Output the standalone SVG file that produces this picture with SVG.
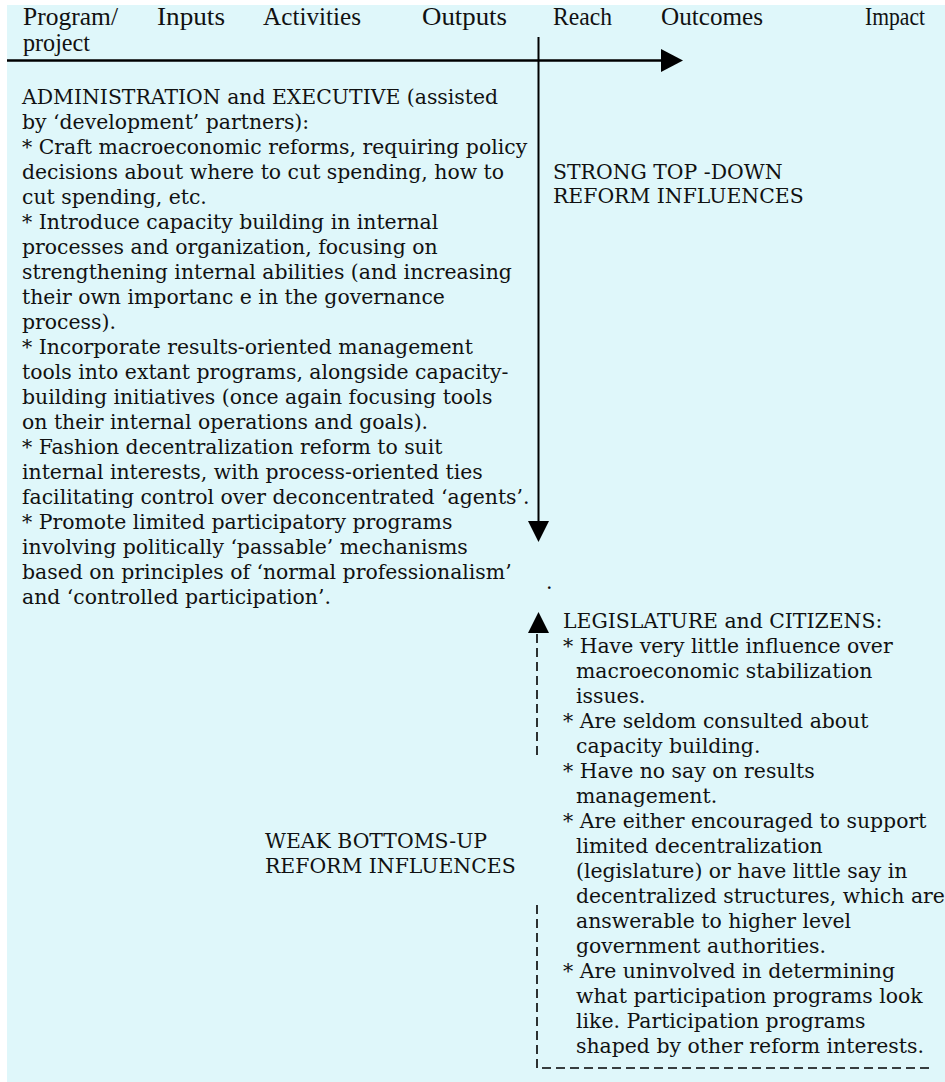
<svg xmlns="http://www.w3.org/2000/svg" width="945" height="1082" viewBox="0 0 945 1082">
<style>
.hd{font-family:"Liberation Serif",serif;font-size:25px;fill:#111}
.tx{font-family:"DejaVu Serif","Liberation Serif",serif;font-size:20.4px;fill:#111}
.ln{stroke:#000;fill:none}
.dash{stroke:#000;stroke-width:1.6;fill:none;stroke-dasharray:9 5}
</style>
<rect x="7" y="5" width="938" height="1077" fill="#dff7fa"/>
<g id="header">
<text class="hd" x="23" y="25" textLength="95" lengthAdjust="spacingAndGlyphs">Program/</text>
<text class="hd" x="23" y="51" textLength="67" lengthAdjust="spacingAndGlyphs">project</text>
<text class="hd" x="157" y="25" textLength="68" lengthAdjust="spacingAndGlyphs">Inputs</text>
<text class="hd" x="263" y="25" textLength="98" lengthAdjust="spacingAndGlyphs">Activities</text>
<text class="hd" x="422" y="25" textLength="85" lengthAdjust="spacingAndGlyphs">Outputs</text>
<text class="hd" x="553" y="25" textLength="59" lengthAdjust="spacingAndGlyphs">Reach</text>
<text class="hd" x="661" y="25" textLength="102" lengthAdjust="spacingAndGlyphs">Outcomes</text>
<text class="hd" x="865" y="25" textLength="60" lengthAdjust="spacingAndGlyphs">Impact</text>
</g>
<g id="connectors">
<line class="ln" x1="7" y1="60.5" x2="662" y2="60.5" stroke-width="2.5"/>
<polygon points="661,49 683,60.5 661,72" fill="#000"/>
<line class="ln" x1="538.5" y1="37" x2="538.5" y2="522" stroke-width="2"/>
<polygon points="528,521 549,521 538.5,542" fill="#000"/>
<polygon points="538.5,612 549,633 528,633" fill="#000"/>
<path class="dash" d="M537,634 V755"/>
<path class="dash" d="M537,905 V1068 H933"/>
</g>
<g id="executive">
<text class="tx" x="22" y="104">ADMINISTRATION and EXECUTIVE (assisted</text>
<text class="tx" x="22" y="129">by ‘development’ partners):</text>
<text class="tx" x="22" y="154">* Craft macroeconomic reforms, requiring policy</text>
<text class="tx" x="22" y="179">decisions about where to cut spending, how to</text>
<text class="tx" x="22" y="204">cut spending, etc.</text>
<text class="tx" x="22" y="229">* Introduce capacity building in internal</text>
<text class="tx" x="22" y="254">processes and organization, focusing on</text>
<text class="tx" x="22" y="279">strengthening internal abilities (and increasing</text>
<text class="tx" x="22" y="304">their own importanc e in the governance</text>
<text class="tx" x="22" y="329">process).</text>
<text class="tx" x="22" y="354">* Incorporate results-oriented management</text>
<text class="tx" x="22" y="379">tools into extant programs, alongside capacity-</text>
<text class="tx" x="22" y="404">building initiatives (once again focusing tools</text>
<text class="tx" x="22" y="429">on their internal operations and goals).</text>
<text class="tx" x="22" y="454">* Fashion decentralization reform to suit</text>
<text class="tx" x="22" y="479">internal interests, with process-oriented ties</text>
<text class="tx" x="22" y="504">facilitating control over deconcentrated ‘agents’.</text>
<text class="tx" x="22" y="529">* Promote limited participatory programs</text>
<text class="tx" x="22" y="554">involving politically ‘passable’ mechanisms</text>
<text class="tx" x="22" y="579">based on principles of ‘normal professionalism’</text>
<text class="tx" x="22" y="604">and ‘controlled participation’.</text>
</g>
<g id="topdown">
<text class="tx" x="553" y="179">STRONG TOP -DOWN</text>
<text class="tx" x="553" y="203">REFORM INFLUENCES</text>
</g>
<g id="dot">
<text class="tx" x="546" y="589">.</text>
</g>
<g id="bottomup">
<text class="tx" x="265" y="848">WEAK BOTTOMS-UP</text>
<text class="tx" x="265" y="873">REFORM INFLUENCES</text>
</g>
<g id="legislature">
<text class="tx" x="563" y="628">LEGISLATURE and CITIZENS:</text>
<text class="tx" x="563" y="653">* Have very little influence over</text>
<text class="tx" x="576" y="678">macroeconomic stabilization</text>
<text class="tx" x="576" y="703">issues.</text>
<text class="tx" x="563" y="728">* Are seldom consulted about</text>
<text class="tx" x="576" y="753">capacity building.</text>
<text class="tx" x="563" y="778">* Have no say on results</text>
<text class="tx" x="576" y="803">management.</text>
<text class="tx" x="563" y="828">* Are either encouraged to support</text>
<text class="tx" x="576" y="853">limited decentralization</text>
<text class="tx" x="576" y="878">(legislature) or have little say in</text>
<text class="tx" x="576" y="903">decentralized structures, which are</text>
<text class="tx" x="576" y="928">answerable to higher level</text>
<text class="tx" x="576" y="953">government authorities.</text>
<text class="tx" x="563" y="978">* Are uninvolved in determining</text>
<text class="tx" x="576" y="1003">what participation programs look</text>
<text class="tx" x="576" y="1028">like. Participation programs</text>
<text class="tx" x="576" y="1053">shaped by other reform interests.</text>
</g>
</svg>
